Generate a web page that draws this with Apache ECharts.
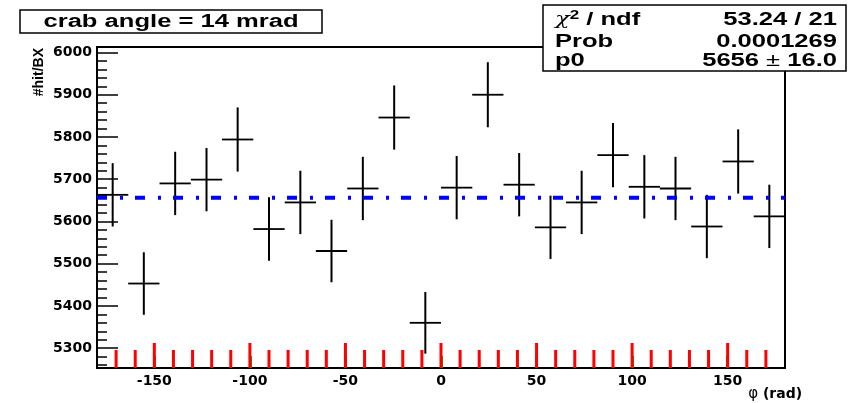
<!DOCTYPE html>
<html>
<head>
<meta charset="utf-8">
<script src="https://cdn.jsdelivr.net/npm/echarts@6/dist/echarts.min.js"></script>
<style>
html,body{margin:0;padding:0;background:#fff;}
#main{width:850px;height:403px;}
</style>
</head>
<body>
<div id="main"></div>
<script>
// ---- data ----
const phiCenters = [-171.8, -155.5, -139.1, -122.7, -106.4, -90.0, -73.6, -57.3, -40.9, -24.5, -8.2,
                    8.2, 24.5, 40.9, 57.3, 73.6, 90.0, 106.4, 122.7, 139.1, 155.5, 171.8];
const hitCounts = [5663, 5453, 5690, 5699, 5794, 5582, 5645, 5530, 5678, 5846, 5360,
                   5680, 5900, 5687, 5586, 5645, 5757, 5682, 5678, 5588, 5742, 5612];
const hitErrors = [75, 74, 75, 75, 76, 75, 75, 74, 75, 76, 73,
                   75, 77, 75, 75, 75, 76, 75, 75, 75, 76, 75];
const binWidth = 16.36;
const fitP0 = 5656;
const fitRange = [-180, 180];
const xRange = [-180, 180];
const yRange = [5253, 6013];
const xMajorTicks = [-150, -100, -50, 0, 50, 100, 150];
const xMinorTicks = [-170, -160, -140, -130, -120, -110, -90, -80, -70, -60, -40, -30, -20, -10,
                     10, 20, 30, 40, 60, 70, 80, 90, 110, 120, 130, 140, 160, 170];
const titleText = 'crab angle = 14 mrad';
const statsLabels = ['chi2', 'Prob', 'p0'];
const statsValues = ['53.24 / 21', '0.0001269', '5656 \u00b1 16.0'];

// ---- chart ----
const chart = echarts.init(document.getElementById('main'), null, {renderer: 'canvas'});
const seriesData = phiCenters.map((x, i) => [x, hitCounts[i], hitErrors[i]]);
const tickData = xMajorTicks.map(v => [v, yRange[0], 1]).concat(xMinorTicks.map(v => [v, yRange[0], 0]));
const halfBin = binWidth / 2;
const plain = v => String(v);

const SX = 1.42;
const statFont = {fontFamily: 'Liberation Sans', fontWeight: 'bold', fontSize: 18, fill: '#000'};
const rowY = [20, 42, 61.5];

const option = {
  animation: false,
  backgroundColor: '#fff',
  grid: {left: 97, right: 65, top: 47, bottom: 35, show: true, borderColor: '#000', borderWidth: 2},
  xAxis: [
    {
      type: 'value', min: xRange[0], max: xRange[1], minInterval: 50, maxInterval: 50,
      position: 'bottom',
      axisLine: {show: true, onZero: false, lineStyle: {color: '#000', width: 2}},
      axisTick: {show: true, inside: true, length: 12, lineStyle: {color: '#00aa00', width: 3}},
      axisLabel: {margin: 6, showMinLabel: false, showMaxLabel: false, formatter: plain,
                  fontFamily: 'DejaVu Sans', fontWeight: 'bold', fontSize: 14, color: '#000'},
      splitLine: {show: false},
      name: '{p|\u03c6} (rad)',
      nameLocation: 'end',
      nameGap: -2,
      nameTextStyle: {
        fontFamily: 'DejaVu Sans', fontWeight: 'bold', fontSize: 14, color: '#000',
        align: 'right', verticalAlign: 'top', padding: [19, 0, 0, 0],
        rich: {p: {fontFamily: 'DejaVu Sans', fontWeight: 'normal', fontSize: 15, color: '#000'}}
      }
    }
  ],
  yAxis: [
    {
      type: 'value', min: yRange[0], max: yRange[1], minInterval: 100, maxInterval: 100,
      position: 'left',
      axisLine: {show: true, onZero: false, lineStyle: {color: '#000', width: 2}},
      axisTick: {show: true, inside: true, length: 21, lineStyle: {color: '#000', width: 1.5}},
      axisLabel: {margin: 5, showMinLabel: false, showMaxLabel: false, formatter: plain,
                  fontFamily: 'DejaVu Sans', fontWeight: 'bold', fontSize: 14, color: '#000'},
      splitLine: {show: false}
    },
    {
      type: 'value', min: yRange[0], max: yRange[1], minInterval: 20, maxInterval: 20,
      position: 'left',
      axisLine: {show: false, onZero: false},
      axisTick: {show: true, inside: true, length: 10, lineStyle: {color: '#000', width: 1.5}},
      axisLabel: {show: false},
      splitLine: {show: false}
    }
  ],
  series: [
    {
      type: 'custom',
      xAxisIndex: 0, yAxisIndex: 0,
      data: tickData,
      encode: {x: 0, y: 1},
      z: 10,
      clip: false,
      silent: true,
      renderItem: function (params, api) {
        const v = api.value(0), major = api.value(2);
        const p = api.coord([v, api.value(1)]);
        const len = major ? 25 : 18;
        return {type: 'line', shape: {x1: p[0], y1: p[1], x2: p[0], y2: p[1] - len},
                style: {stroke: '#ff0000', lineWidth: 3}};
      }
    },
    {
      type: 'custom',
      xAxisIndex: 0, yAxisIndex: 0,
      data: seriesData,
      z: 2,
      renderItem: function (params, api) {
        const x = api.value(0), y = api.value(1), e = api.value(2);
        const c = api.coord([x, y]);
        const top = api.coord([x, y + e]);
        const bot = api.coord([x, y - e]);
        const l = api.coord([x - halfBin, y]);
        const r = api.coord([x + halfBin, y]);
        return {
          type: 'group',
          children: [
            {type: 'line', shape: {x1: c[0], y1: top[1], x2: c[0], y2: bot[1]}, style: {stroke: '#000', lineWidth: 2}},
            {type: 'line', shape: {x1: l[0], y1: c[1], x2: r[0], y2: c[1]}, style: {stroke: '#000', lineWidth: 1.8}}
          ]
        };
      }
    },
    {
      type: 'line',
      xAxisIndex: 0, yAxisIndex: 0,
      data: [[fitRange[0], fitP0], [fitRange[1], fitP0]],
      symbol: 'none',
      z: 5,
      lineStyle: {color: '#0000ff', width: 4, type: [10, 13, 3, 12]}
    }
  ],
  graphic: [
    {type: 'rect', z: 100, shape: {x: 20, y: 10, width: 302, height: 23}, style: {fill: '#fff', stroke: '#000', lineWidth: 1.5}},
    {type: 'text', z: 101, x: 171, y: 22, scaleX: SX,
      style: Object.assign({text: titleText, align: 'center', verticalAlign: 'middle'}, statFont)},
    {type: 'rect', z: 100, shape: {x: 543, y: 5, width: 303, height: 66}, style: {fill: '#fff', stroke: '#000', lineWidth: 1.5}},
    {type: 'text', z: 101, x: 555, y: rowY[0], scaleX: SX,
      style: {
        text: '{c|\u03c7}{s|2}{b| / ndf}', align: 'left', verticalAlign: 'middle',
        rich: {
          c: {fontFamily: 'DejaVu Serif', fontStyle: 'italic', fontSize: 17, fill: '#000'},
          s: {fontFamily: 'Liberation Sans', fontWeight: 'bold', fontSize: 12, fill: '#000', verticalAlign: 'top', padding: [0, 0, 8, 0]},
          b: {fontFamily: 'Liberation Sans', fontWeight: 'bold', fontSize: 18, fill: '#000'}
        }
      }},
    {type: 'text', z: 101, x: 555, y: rowY[1], scaleX: SX,
      style: Object.assign({text: statsLabels[1], align: 'left', verticalAlign: 'middle'}, statFont)},
    {type: 'text', z: 101, x: 555, y: rowY[2], scaleX: SX,
      style: Object.assign({text: statsLabels[2], align: 'left', verticalAlign: 'middle'}, statFont)},
    {type: 'text', z: 101, x: 837, y: rowY[0], scaleX: SX,
      style: Object.assign({text: statsValues[0], align: 'right', verticalAlign: 'middle'}, statFont)},
    {type: 'text', z: 101, x: 837, y: rowY[1], scaleX: SX,
      style: Object.assign({text: statsValues[1], align: 'right', verticalAlign: 'middle'}, statFont)},
    {type: 'text', z: 101, x: 837, y: rowY[2], scaleX: SX,
      style: {
        text: '{b|5656}{p| \u00b1 }{b|16.0}', align: 'right', verticalAlign: 'middle',
        rich: {
          b: {fontFamily: 'Liberation Sans', fontWeight: 'bold', fontSize: 18, fill: '#000'},
          p: {fontFamily: 'Liberation Sans', fontWeight: 'normal', fontSize: 18, fill: '#000'}
        }
      }},
    {type: 'text', z: 101, x: 39, y: 48, rotation: Math.PI / 2,
      style: {text: '#hit/BX', align: 'right', verticalAlign: 'middle', fontFamily: 'Liberation Sans', fontWeight: 'bold', fontSize: 14, fill: '#000'}}
  ]
};
chart.setOption(option);
</script>
</body>
</html>
